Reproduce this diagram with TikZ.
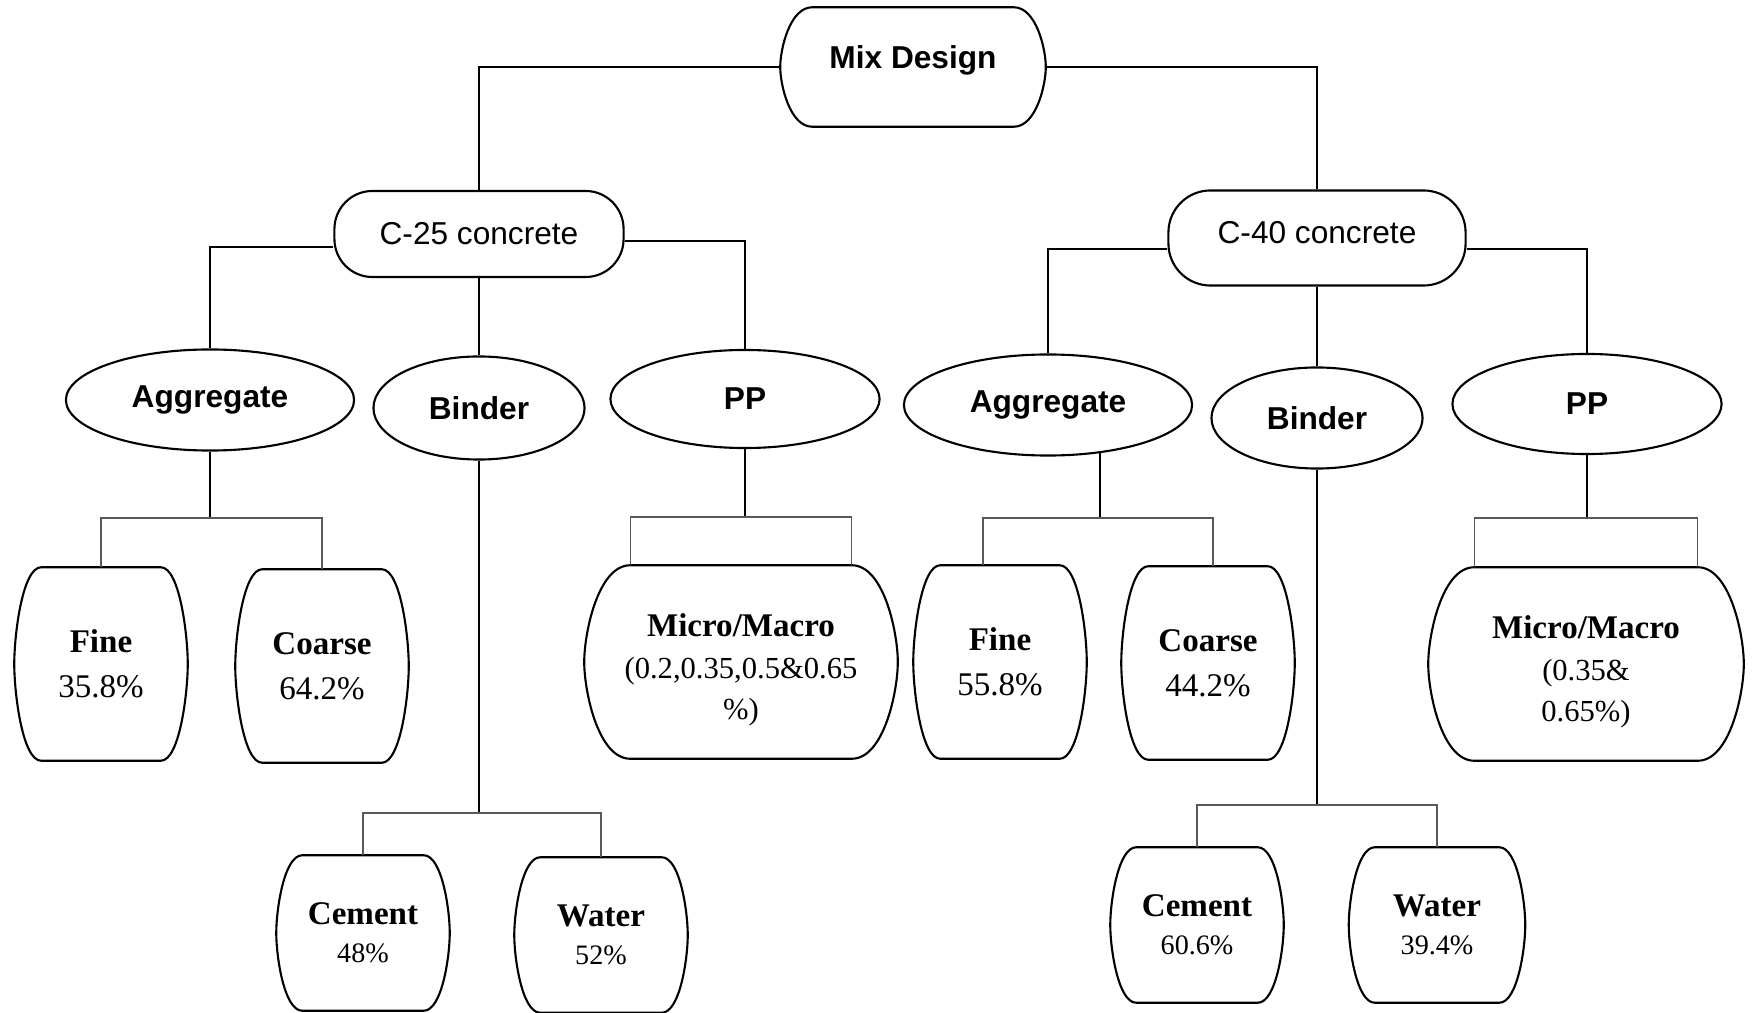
\documentclass[tikz,border=0pt]{standalone}
\usepackage{fontspec}
\setmainfont{Liberation Serif}
\setsansfont{Liberation Sans}
\usetikzlibrary{shapes.geometric,calc}
\tikzset{
  mdoutline/.style={draw=black,line width=0.6pt},
  mdroot/.style={
    inner sep=0pt, minimum width=2.64cm, minimum height=1.18cm,
    font=\sffamily\bfseries\fontsize{9}{11}\selectfont, text depth=0.2cm
  },
  mdgrade/.style={
    mdoutline, rectangle, rounded corners=0.38cm, inner sep=0pt,
    minimum width=2.89cm, minimum height=0.86cm,
    font=\sffamily\fontsize{9}{11}\selectfont
  },
  mdgroup/.style={
    mdoutline, ellipse, inner sep=0pt,
    minimum width=2.88cm, minimum height=1.01cm,
    font=\sffamily\bfseries\fontsize{9}{11}\selectfont
  },
  mdpart/.style={
    inner sep=0pt, align=center,
    minimum width=1.72cm, minimum height=1.92cm,
    font=\fontsize{9.4}{12.8}\selectfont
  },
  mdpartlow/.style={mdpart,minimum height=1.54cm,font=\fontsize{8}{10.8}\selectfont},
  mdpartwide/.style={mdpart,minimum width=3.12cm,font=\fontsize{8.7}{11.7}\selectfont},
  mdlink/.style={line width=0.5pt},
  mdbracket/.style={line width=0.35pt,draw=black!65}
}
\newcommand{\mdhead}[1]{{\bfseries\fontsize{9.4}{11}\selectfont #1}}
% barrel outline round a node: #1 node, #2 inset of the flat top and bottom
\newcommand{\mdbarrel}[2]{%
  \draw[mdoutline]
    ($(#1.north west)+(#2,0)$) -- ($(#1.north east)+(-#2,0)$)
    .. controls ($(#1.north east)+(-0.3*#2,0)$) and ($(#1.east)!0.3!(#1.north east)$) .. (#1.east)
    .. controls ($(#1.east)!0.3!(#1.south east)$) and ($(#1.south east)+(-0.3*#2,0)$) .. ($(#1.south east)+(-#2,0)$)
    -- ($(#1.south west)+(#2,0)$)
    .. controls ($(#1.south west)+(0.3*#2,0)$) and ($(#1.west)!0.3!(#1.south west)$) .. (#1.west)
    .. controls ($(#1.west)!0.3!(#1.north west)$) and ($(#1.north west)+(0.3*#2,0)$) .. cycle;
}

\begin{document}
\begin{tikzpicture}[x=0.01cm,y=-0.01cm]
\useasboundingbox (0,0) rectangle (1758,1013);

% Top: the design and its two grades
\node[mdroot] (mix) at (913,67) {Mix Design};
\mdbarrel{mix}{32}
\node[mdgrade] (c25) at (479,234) {C-25 concrete};
\node[mdgrade,minimum width=2.97cm,minimum height=0.95cm,rounded corners=0.42cm,text depth=0.12cm] (c40) at (1317,238) {C-40 concrete};
\draw[mdlink] (mix.west) -| (c25.north);
\draw[mdlink] (mix.east) -| (c40.north);

% Groups of each grade
\node[mdgroup] (aggL) at (210,400) {Aggregate};
\node[mdgroup,minimum width=2.11cm,minimum height=1.03cm] (binderL) at (479,408) {Binder};
\node[mdgroup,minimum width=2.69cm,minimum height=0.98cm] (ppL) at (745,399) {PP};
\node[mdgroup] (aggR) at (1048,405) {Aggregate};
\node[mdgroup,minimum width=2.11cm] (binderR) at (1317,418) {Binder};
\node[mdgroup,minimum width=2.69cm,minimum height=1.0cm] (ppR) at (1587,404) {PP};
\draw[mdlink] ($(c25.west)+(0,13)$) -| (aggL.north);
\draw[mdlink] (c25.south) -- (binderL.north);
\draw[mdlink] ($(c25.east)+(0,7)$) -| (ppL.north);
\draw[mdlink] ($(c40.west)+(0,11)$) -| (aggR.north);
\draw[mdlink] (c40.south) -- (binderR.north);
\draw[mdlink] ($(c40.east)+(0,11)$) -| (ppR.north);

% Parts with their shares
\node[mdpart] (fineL) at (101,664) {\mdhead{Fine}\\35.8\%};
\node[mdpart] (coarseL) at (322,666) {\mdhead{Coarse}\\64.2\%};
\node[mdpartwide] (microL) at (741,662) {\mdhead{\rule{0pt}{11pt}Micro/Macro}\\(0.2,0.35,0.5\&0.65\\\%)};
\node[mdpartlow] (cementL) at (363,933) {\mdhead{Cement}\\48\%};
\node[mdpartlow] (waterL) at (601,935) {\mdhead{Water}\\52\%};
\node[mdpart] (fineR) at (1000,662) {\mdhead{Fine}\\55.8\%};
\node[mdpart] (coarseR) at (1208,663) {\mdhead{Coarse}\\44.2\%};
\node[mdpartwide,minimum width=3.14cm] (microR) at (1586,664) {\mdhead{\rule{0pt}{11pt}Micro/Macro}\\(0.35\&\\0.65\%)};
\node[mdpartlow] (cementR) at (1197,925) {\mdhead{Cement}\\60.6\%};
\node[mdpartlow,minimum width=1.75cm] (waterR) at (1437,925) {\mdhead{Water}\\39.4\%};
\foreach \n in {fineL,coarseL,fineR,coarseR} {\mdbarrel{\n}{27}}
\foreach \n in {cementL,waterL,cementR,waterR} {\mdbarrel{\n}{26}}
\foreach \n in {microL,microR} {\mdbarrel{\n}{46}}

% Brackets under the groups
\coordinate (aggLj) at (210,518);
\coordinate (ppLj) at (745,517);
\coordinate (binderLj) at (479,813);
\coordinate (aggRj) at (1098,518);
\coordinate (ppRj) at (1587,518);
\coordinate (binderRj) at (1317,805);
\draw[mdlink] (aggL.south) -- (aggLj);
\draw[mdbracket] (fineL.north) |- (aggLj) -| (coarseL.north);
\draw[mdlink] (ppL.south) -- (ppLj);
\draw[mdbracket] ($(microL.north west)+(46,0)$) |- (ppLj) -| ($(microL.north east)+(-46,0)$);
\draw[mdlink] (binderL.south) -- (binderLj);
\draw[mdbracket] (cementL.north) |- (binderLj) -| (waterL.north);
\draw[mdlink] (aggR.-43.5) -- (aggR.-43.5 |- aggRj);
\draw[mdbracket] ($(fineR.north)+(-17,0)$) |- (aggRj) -| ($(coarseR.north)+(5,0)$);
\draw[mdlink] (ppR.south) -- (ppRj);
\draw[mdbracket] ($(microR.north west)+(46,0)$) |- (ppRj) -| ($(microR.north east)+(-46,0)$);
\draw[mdlink] (binderR.south) -- (binderRj);
\draw[mdbracket] (cementR.north) |- (binderRj) -| (waterR.north);
\end{tikzpicture}
\end{document}
